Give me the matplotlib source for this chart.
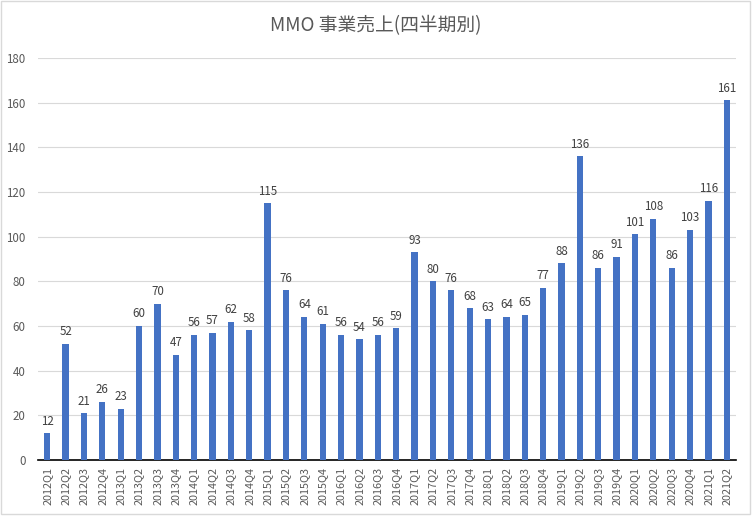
import matplotlib.pyplot as plt
from matplotlib.patches import Rectangle

plt.rcParams['font.family'] = ['Noto Sans CJK JP', 'DejaVu Sans']

years = [2012, 2013, 2014, 2015, 2016, 2017, 2018, 2019, 2020, 2021]
quarters = []
for y in years:
    for q in range(1, 5):
        quarters.append(str(y) + 'Q' + str(q))
quarters = quarters[:38]

sales = [12, 52, 21, 26, 23, 60, 70, 47, 56, 57, 62, 58, 115, 76, 64, 61,
         56, 54, 56, 59, 93, 80, 76, 68, 63, 64, 65, 77, 88, 136, 86, 91,
         101, 108, 86, 103, 116, 161]

fig = plt.figure(figsize=(7.52, 5.16), dpi=100)
ax = fig.add_axes([38 / 752, 1 - 460 / 516, (736 - 38) / 752, (460 - 58) / 516])

x = list(range(len(sales)))
bars = ax.bar(x, sales, width=0.34, color='#4472C4', zorder=3)
for xi, v in zip(x, sales):
    ax.text(xi, v + 2.5, str(v), ha='center', va='bottom', fontsize=8.3,
            color='#404040')

ax.set_xlim(-0.5, len(sales) - 0.5)
ax.set_ylim(0, 180)
ax.set_yticks(range(0, 181, 20))
ax.grid(axis='y', color='#D9D9D9', linewidth=0.8, zorder=0)
ax.set_xticks(x)
ax.set_xticklabels(quarters, rotation=90, fontsize=7.8, color='#595959')
ax.tick_params(axis='y', labelsize=8.3, labelcolor='#595959', length=0, pad=9)
ax.tick_params(axis='x', length=0, pad=5)
for s in ['top', 'right', 'left']:
    ax.spines[s].set_visible(False)
ax.spines['bottom'].set_color('#000000')
ax.spines['bottom'].set_linewidth(1.2)

fig.text(0.5, 1 - 26 / 516, 'MMO 事業売上(四半期別)', ha='center', va='center',
         fontsize=13.5, color='#595959')

fig.patches.append(Rectangle((0.001, 0.003), 0.997, 0.995, transform=fig.transFigure,
                             fill=False, edgecolor='#D9D9D9', linewidth=1))

fig.savefig('out.png', dpi=100)
